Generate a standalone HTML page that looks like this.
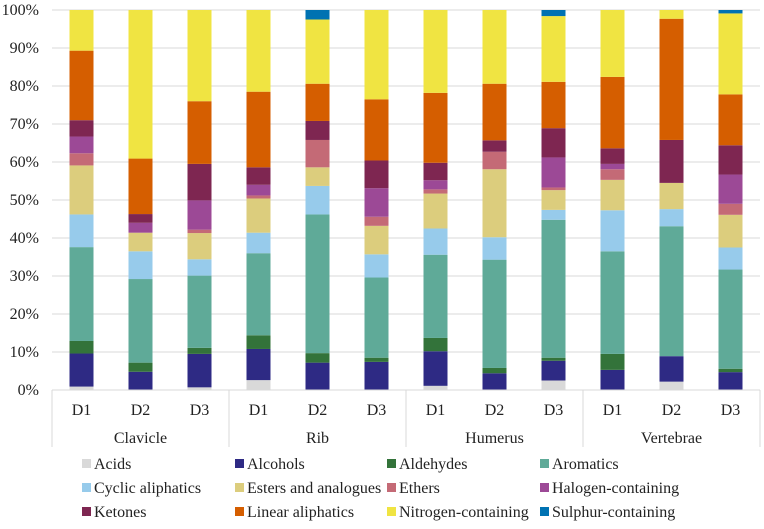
<!DOCTYPE html>
<html><head><meta charset="utf-8"><style>
body{margin:0;background:#fff;}
svg text{font-family:"Liberation Serif",serif;fill:#222;}
</style></head><body>
<svg id="chart" width="764" height="524" viewBox="0 0 764 524" xmlns="http://www.w3.org/2000/svg"></svg>
<script>
const groups = ["Clavicle","Rib","Humerus","Vertebrae"];
const subs = ["D1","D2","D3"];
const seriesNames = ["Acids","Alcohols","Aldehydes","Aromatics","Cyclic aliphatics","Esters and analogues","Ethers","Halogen-containing","Ketones","Linear aliphatics","Nitrogen-containing","Sulphur-containing"];
const seriesColors = ["#d9d9d9","#2e2a84","#33733a","#5faa98","#97cbeb","#dccd7d","#c46a76","#9c4996","#7e2651","#d55e00","#f0e442","#0072b2"];
const acids      = [0.9,0,0.7, 2.6,0,0, 1.1,0,2.5, 0,2.2,0];
const alcohols   = [8.7,4.8,8.8, 8.2,7.2,7.4, 9.1,4.4,5.2, 5.3,6.7,4.7];
const aldehydes  = [3.3,2.4,1.6, 3.6,2.5,1.1, 3.5,1.4,0.8, 4.2,0,0.9];
const aromatics  = [24.7,22.0,19.0, 21.6,36.5,21.1, 21.9,28.5,36.3, 27.0,34.2,26.1];
const cyclic     = [8.6,7.3,4.3, 5.4,7.5,6.1, 6.9,5.9,2.6, 10.8,4.5,5.8];
const esters     = [12.9,4.9,6.9, 9.0,4.9,7.5, 9.2,17.9,5.2, 8.0,6.9,8.6];
const ethers     = [3.2,0,0.9, 0.8,7.2,2.4, 1.1,4.6,0.7, 2.8,0,2.9];
const halogen    = [4.4,2.6,7.7, 2.8,0,7.5, 2.4,0,7.9, 1.4,0,7.7];
const ketones    = [4.3,2.3,9.6, 4.6,5.0,7.3, 4.6,3.0,7.7, 4.1,11.3,7.7];
const linear     = [18.3,14.6,16.5, 19.9,9.8,16.1, 18.4,14.9,12.2, 18.8,31.9,13.4];
const nitrogen   = [10.7,39.1,24.0, 21.5,16.9,23.5, 21.8,19.4,17.3, 17.6,2.3,21.3];
const sulphur    = [0,0,0, 0,2.5,0, 0,0,1.6, 0,0,0.9];
const yTicks = ["0%","10%","20%","30%","40%","50%","60%","70%","80%","90%","100%"];
const series = [acids,alcohols,aldehydes,aromatics,cyclic,esters,ethers,halogen,ketones,linear,nitrogen,sulphur];

const NS="http://www.w3.org/2000/svg";
const svg=document.getElementById('chart');
const L=52,R=760,T=10,B=390;
const slot=(R-L)/12, bw=24;
function y(v){return B-(v/100)*(B-T);}
function xc(i){return L+slot*(i+0.5);}
function mk(tag,attrs,parent){const e=document.createElementNS(NS,tag);for(const k in attrs)e.setAttribute(k,attrs[k]);(parent||svg).appendChild(e);return e;}

yTicks.forEach((t,i)=>{
  const v=i*10;
  const g=mk('line',{x1:L,x2:R,y1:y(v),y2:y(v),stroke:'#d9d9d9','stroke-width':1});
  
  
  const tx=mk('text',{x:L-13,y:y(v)+5,'text-anchor':'end','font-size':16});
  tx.textContent=t;
  
  
});

for(let b=0;b<12;b++){
  let cum=0;
  series.forEach((s,si)=>{
    const v=s[b];
    if(v>0){
      const r=mk('rect',{x:xc(b)-bw/2,y:y(cum+v),width:bw,height:y(cum)-y(cum+v),fill:seriesColors[si]});
      
      
    }
    cum+=v;
  });
  const lt=mk('text',{x:xc(b),y:415,'text-anchor':'middle','font-size':16});
  lt.textContent=subs[b%3];
  
  
}
const ax=mk('line',{x1:L,x2:R,y1:B,y2:B,stroke:'#d9d9d9','stroke-width':1});


for(let g=0;g<=4;g++){
  const sx=L+slot*3*g;
  const sl=mk('line',{x1:sx,x2:sx,y1:B,y2:447,stroke:'#d9d9d9','stroke-width':1});
  
  
  if(g<4){
    const gt=mk('text',{x:sx+slot*1.5,y:443,'text-anchor':'middle','font-size':16});
    gt.textContent=groups[g];
    
    
  }
}
const colX=[82,235,387,540], rowY=[464,488,512];
seriesNames.forEach((n,i)=>{
  const cx=colX[i%4], ry=rowY[Math.floor(i/4)];
  const sw=mk('rect',{x:cx,y:ry-5,width:9,height:9,fill:seriesColors[i]});
  
  
  const t=mk('text',{x:cx+12,y:ry+5,'font-size':16});
  t.textContent=n;
  
  
});
</script>
</body></html>
